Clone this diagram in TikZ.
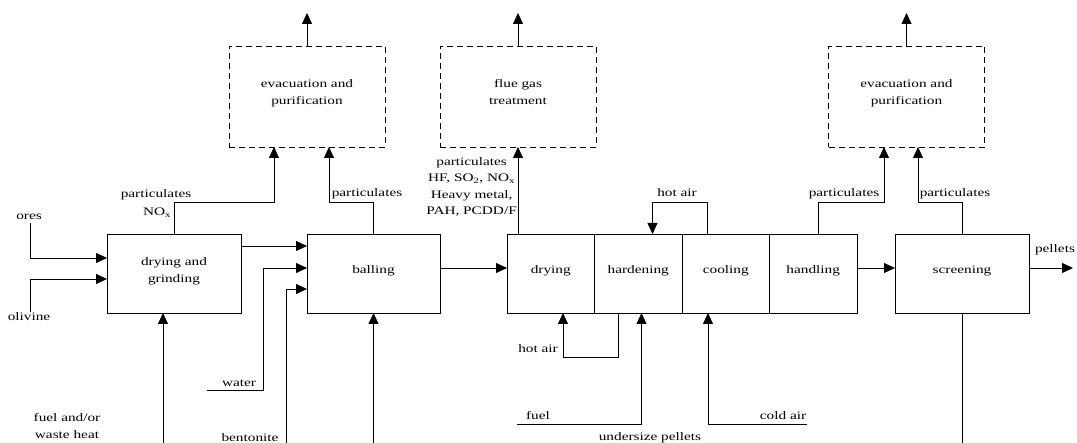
\documentclass[tikz,border=0pt]{standalone}
\usepackage{fontspec}
\setmainfont{Liberation Serif}[FakeStretch=1.33]
\usepackage{tikz}
\usetikzlibrary{arrows.meta}
\usetikzlibrary{positioning}
\usetikzlibrary{calc}
\tikzset{
    unit/.style={
           rectangle,
           draw=black, line width=0.8pt,
           minimum width=134pt,
           minimum height=79pt,
           inner sep=2pt, outer sep=0pt,
           align=center,
           execute at end node={\rule[-7pt]{0pt}{7pt}},
           },
    stage/.style={
           unit,
           minimum width=87.5pt,
           },
    treat/.style={
           rectangle,
           draw=black, line width=0.8pt,
           dash pattern=on 6pt off 4pt,
           minimum width=156pt,
           minimum height=101pt,
           inner sep=2pt, outer sep=0pt,
           align=center,
           execute at end node={\rule[-9pt]{0pt}{9pt}},
           },
    lbl/.style={
           inner sep=0pt,
           align=center,
           },
    flow/.style={
           line width=0.8pt,
           -{Triangle[length=11pt,width=10pt]},
           },
    plain/.style={
           line width=0.8pt,
           },
}

\begin{document}
\begin{tikzpicture}[x=1pt,y=1pt,font=\fontsize{11.5}{16.5}\selectfont]
	\useasboundingbox (0,0) rectangle (1077,443);

	% process units
	\node[unit] (grind) at (174,169.5) {drying and\\grinding};
	\node[unit, minimum width=133pt] (ball) at (373.5,169.5) {balling};
	\node[stage] (dry) at (550.75,169.5) {drying};
	\node[stage, right=0pt of dry] (hard) {hardening};
	\node[stage, right=0pt of hard] (cool) {cooling};
	\node[stage, right=0pt of cool] (hand) {handling};
	\node[unit] (screen) at (962,169.5) {screening};

	% off-gas treatment
	\node[treat] (evac1) at (307,346.5) {evacuation and\\purification};
	\node[treat] (flue) at (518,346.5) {flue gas\\treatment};
	\node[treat] (evac2) at (906.5,346.5) {evacuation and\\purification};

	% free ends
	\coordinate (ores in) at (30,220);
	\coordinate (olivine in) at (30,131);
	\coordinate (heat in) at (163,0);
	\coordinate (water in) at (207,53);
	\coordinate (bent in) at (286,0);
	\coordinate (ball in) at (373.5,0);
	\coordinate (fuel in) at (517,19);
	\coordinate (cold in) at (807,19);
	\coordinate (under out) at (962,0);
	\coordinate (pellets out) at (1073,175);
	\coordinate (evac1 out) at (307,430);
	\coordinate (flue out) at (518,430);
	\coordinate (evac2 out) at (906.5,430);

	% raw materials
	\draw[flow] (ores in) |- ($(grind.west)+(0,15.5)$);
	\draw[flow] (olivine in) |- ($(grind.west)+(0,-5.5)$);
	\draw[flow] (heat in) -- (heat in |- grind.south);
	\draw[flow] ($(grind.east)+(0,27.5)$) -- ($(ball.west)+(0,27.5)$);
	\draw[flow] (water in) -- ++(56,0) |- ($(ball.west)+(0,5.5)$);
	\draw[flow] (bent in) |- ($(ball.west)+(0,-15.5)$);
	\draw[flow] (ball in) -- (ball.south);

	% pellet line
	\draw[flow] ($(ball.east)+(0,5.5)$) -- ($(dry.west)+(0,5.5)$);
	\draw[flow] ($(hand.east)+(0,5.5)$) -- ($(screen.west)+(0,5.5)$);
	\draw[flow] ($(screen.east)+(0,5.5)$) -- (pellets out);
	\draw[plain] (screen.south) -- (under out);

	% air and fuel
	\draw[flow] ($(cool.north west)+(25,0)$) -- ++(0,32) -| ($(hard.north west)+(58,0)$);
	\draw[flow] ($(hard.south west)+(24,0)$) -- ++(0,-44) -| ($(dry.south west)+(56,0)$);
	\draw[flow] (fuel in) -| ($(hard.south west)+(47,0)$);
	\draw[flow] (cold in) -| ($(cool.south west)+(26,0)$);

	% emissions
	\draw[flow] (grind.north) -- ++(0,32) -| ($(evac1.south)+(-33,0)$);
	\draw[flow] (ball.north) -- ++(0,32) -| ($(evac1.south)+(22,0)$);
	\draw[flow] (dry.north -| flue.south) -- (flue.south);
	\draw[flow] ($(hand.north west)+(49,0)$) -- ++(0,32) -| ($(evac2.south)+(-22.5,0)$);
	\draw[flow] (screen.north) -- ++(0,32) -| ($(evac2.south)+(11.5,0)$);
	\draw[flow] (evac1.north) -- (evac1 out);
	\draw[flow] (flue.north) -- (flue out);
	\draw[flow] (evac2.north) -- (evac2 out);

	% labels
	\node[lbl] (ores) at (29,226) {ores};
	\node[lbl] (olivine) at (29,126) {olivine};
	\node[lbl] (heat) at (67,17) {fuel and/or\\waste heat};
	\node[lbl] (water) at (239,60) {water};
	\node[lbl] (bent) at (250,5) {bentonite};
	\node[lbl] (part1) at (156,248) {particulates};
	\node[lbl] (nox1) at (157,230) {NO\textsubscript{x}};
	\node[lbl] (part2) at (367,249) {particulates};
	\node[lbl, anchor=east] (fluegas) at (517,256)
		{particulates\\HF, SO\textsubscript{2}, NO\textsubscript{x}\\Heavy metal,\\PAH, PCDD/F};
	\node[lbl] (hot1) at (677,250) {hot air};
	\node[lbl] (hot2) at (538,94) {hot air};
	\node[lbl] (fuel) at (538,27) {fuel};
	\node[lbl] (cold) at (783,27) {cold air};
	\node[lbl] (under) at (650,5) {undersize pellets};
	\node[lbl] (part3) at (844,249) {particulates};
	\node[lbl] (part4) at (955,249) {particulates};
	\node[lbl] (pellets) at (1055,193) {pellets};
\end{tikzpicture}
\end{document}
